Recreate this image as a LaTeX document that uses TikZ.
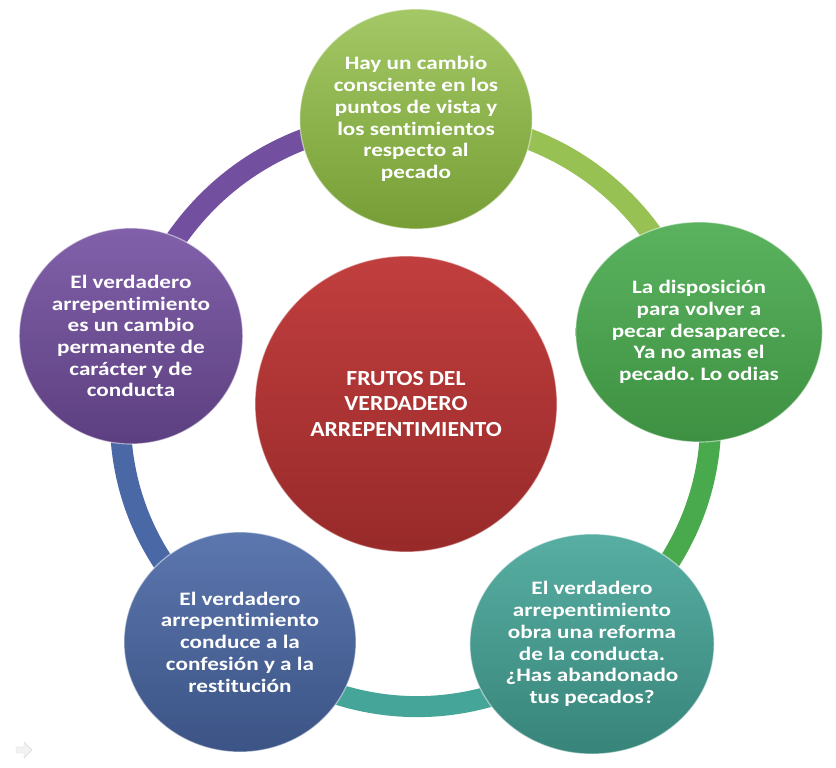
\documentclass[tikz,border=0pt]{standalone}
\usepackage{fontspec}
\setmainfont{Carlito}
\newfontfamily\bubblefont{Carlito}[FakeStretch=1.22, Ligatures=NoCommon]
\newfontfamily\centrofont{Carlito}[FakeStretch=1.1, Ligatures=NoCommon]
\frenchspacing
\usetikzlibrary{shapes.geometric,backgrounds}
\definecolor{lima}{HTML}{8CBA3F}
\definecolor{verde}{HTML}{48AA4D}
\definecolor{turquesa}{HTML}{45A598}
\definecolor{azul}{HTML}{4A68A6}
\definecolor{morado}{HTML}{734FA0}
\definecolor{rojo}{HTML}{BE3434}
\tikzset{
  bubble/.style={ellipse, inner sep=0pt, minimum width=232pt, minimum height=220pt,
    draw=white, draw opacity=0.5, line width=1.2pt, text=white, align=center,
    font=\bubblefont\bfseries\fontsize{19}{21.7}\selectfont},
  ringseg/.style={line width=21pt},
}

\begin{document}
\begin{tikzpicture}[x=1pt,y=-1pt]
    \useasboundingbox (0,0) rectangle (836,768);
    \node[bubble, top color=lima!80!white, bottom color=lima!85!black] (cambio) at (416,119)
      {Hay un cambio\\consciente en los\\puntos de vista y\\los sentimientos\\respecto al\\pecado};
    \node[bubble, top color=verde!90!white, bottom color=verde!85!black] (odio) at (699,332)
      {La disposición\\para volver a\\pecar desaparece.\\Ya no amas el\\pecado. Lo odias};
    \node[bubble, top color=turquesa!90!white, bottom color=turquesa!80!black] (reforma) at (592,644)
      {El verdadero\\arrepentimiento\\obra una reforma\\de la conducta.\\¿Has abandonado\\tus pecados?};
    \node[bubble, top color=azul!90!white, bottom color=azul!80!black] (confesion) at (240,642)
      {El verdadero\\arrepentimiento\\conduce a la\\confesión y a la\\restitución};
    \node[bubble, minimum width=222pt, minimum height=216pt, top color=morado!90!white,
      bottom color=morado!80!black] (caracter) at (131,336)
      {El verdadero\\arrepentimiento\\es un cambio\\permanente de\\carácter y de\\conducta};
    \node[bubble, minimum width=302pt, minimum height=296pt, top color=rojo!95!white,
      bottom color=rojo!80!black, font=\centrofont\bfseries\fontsize{21.5}{25.5}\selectfont] (frutos) at (406,404)
      {FRUTOS DEL\\VERDADERO\\ARREPENTIMIENTO};
    % ring behind the bubbles
    \begin{scope}[on background layer]
      \draw[ringseg, lima!90!white] (cambio.center) to[bend left=37] (odio.center);
      \draw[ringseg, verde] (odio.center) to[bend left=34] (reforma.center);
      \draw[ringseg, turquesa] (reforma.center) to[bend left=38] (confesion.center);
      \draw[ringseg, azul] (confesion.center) to[bend left=34] (caracter.center);
      \draw[ringseg, morado] (caracter.center) to[bend left=37] (cambio.center);
    \end{scope}
    % slide arrow
    \draw[gray!30, fill=gray!10] (16,747) -- (24,747) -- (24,742) -- (32,750) -- (24,758) -- (24,753) -- (16,753) -- cycle;
  \end{tikzpicture}
\end{document}
